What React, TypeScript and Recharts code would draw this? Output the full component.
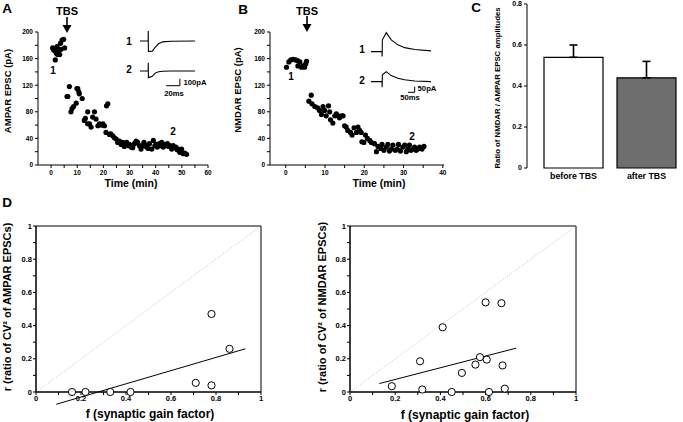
import React from 'react'
import {
  ScatterChart, Scatter, LineChart, Line, BarChart, Bar, Cell, ErrorBar,
  XAxis, YAxis, ReferenceLine, ReferenceArea,
} from 'recharts'

const FONT = 'Arial, "Liberation Sans", Helvetica, sans-serif'

// A: AMPAR EPSC amplitude (time in min, amplitude in pA)
const ampPoints: [number, number][] = [
  [0.6, 176], [1.0, 173], [1.4, 172], [1.6, 158], [2.0, 168], [2.3, 178], [2.5, 166],
  [2.9, 171], [3.3, 166], [3.6, 183], [3.8, 174], [4.2, 188], [4.8, 189], [5.2, 176],
  [6.1, 103], [6.4, 103], [7.0, 118], [7.6, 80], [8.0, 85], [8.6, 88], [9.6, 93],
  [9.9, 115], [10.2, 115], [10.6, 110], [10.8, 107], [11.9, 100], [12.7, 67], [13.1, 70],
  [14.0, 80], [14.0, 62], [14.7, 62], [15.3, 57], [15.9, 72], [16.6, 80], [17.2, 69],
  [17.9, 59], [18.5, 62], [19.3, 60], [19.8, 62], [20.4, 59], [21.0, 49], [21.2, 89],
  [21.7, 92], [22.3, 46], [22.8, 47], [23.6, 44], [24.2, 41], [24.9, 39], [25.5, 34],
  [26.1, 36], [26.8, 31], [27.4, 34], [28.0, 28], [28.9, 34], [29.5, 29], [30.0, 31],
  [30.6, 27], [31.2, 26], [31.9, 32], [32.5, 36], [33.1, 34], [33.8, 29], [34.4, 24],
  [35.0, 29], [35.5, 34], [36.1, 30], [36.5, 27], [37.1, 25], [37.6, 32], [38.5, 24],
  [39.1, 37], [39.7, 29], [40.2, 31], [40.6, 27], [41.4, 32], [41.9, 29], [42.3, 34],
  [42.9, 27], [43.4, 31], [43.9, 29], [44.5, 32], [45.0, 28], [45.4, 29], [46.1, 24],
  [46.7, 29], [47.2, 26], [47.7, 27], [48.2, 23], [48.6, 24], [49.2, 19], [49.9, 24],
  [50.5, 17], [51.1, 18], [51.8, 16],
]

// B: NMDAR EPSC amplitude
const nmdaPoints: [number, number][] = [
  [0.2, 147], [0.8, 155], [1.3, 158], [1.9, 159], [2.5, 158], [3.0, 157], [3.1, 149],
  [3.6, 155], [4.0, 147], [4.4, 149], [4.8, 147], [5.1, 152], [5.3, 156],
  [5.9, 96], [6.5, 105], [6.7, 92], [7.4, 88], [8.1, 86], [8.6, 82], [9.1, 76], [9.5, 88],
  [9.9, 82], [10.3, 74], [10.9, 89], [11.2, 80], [11.4, 68], [12.0, 63], [12.5, 74],
  [12.9, 77], [13.3, 74], [13.7, 71], [14.2, 74], [14.6, 74], [15.0, 59], [15.4, 57],
  [15.8, 52], [16.5, 49], [16.9, 45], [17.4, 56], [18.0, 49], [18.4, 57], [18.8, 52],
  [19.2, 49], [19.4, 35], [19.9, 34], [20.3, 45], [20.8, 40], [21.4, 37], [21.8, 34],
  [22.6, 32], [23.1, 20], [23.5, 28], [24.2, 25], [24.5, 31], [25.0, 22], [25.6, 27],
  [26.0, 31], [26.4, 21], [26.9, 24], [27.3, 30], [27.9, 22], [28.4, 24], [28.7, 31],
  [29.2, 21], [29.8, 27], [30.3, 30], [30.7, 20], [31.1, 24], [31.5, 30], [31.9, 22],
  [32.4, 24], [32.8, 27], [33.2, 22], [33.6, 24], [34.1, 27], [34.7, 24], [35.2, 28],
]

// insets: example EPSC traces (ms, pA)
const ampTraceT = [0, 11.9, 12, 12.2, 18, 22, 27, 33, 45, 80]
const ampTrace1 = [0, 0, 143, -150, -145, -90, -40, -12, -4, 0]
const ampTrace2 = [0, 0, 119, -95, -75, -30, -10, -3, 0, 0]
const ampScaleBar = { ms: [38, 58], pA: [-210, -110] }

const nmdaTraceT = [0, 82, 83, 85, 114, 151, 201, 251, 326, 450]
const nmdaTrace1 = [0, 0, -44, 104, 168, 104, 60, 35, 18, 6]
const nmdaTrace2 = [0, 0, -50, 60, 88, 53, 30, 17, 5, 0]
const nmdaScaleBar = { ms: [276, 326], pA: [-95, -45] }

// C: NMDAR/AMPAR ratio
const ratioLabels = ['before TBS', 'after TBS']
const ratioMeans = [0.54, 0.44]
const ratioErr = [0.06, 0.08]
const ratioFills = ['#ffffff', '#6e6e6e']

// D: CV analysis
const ampGain = [0.16, 0.22, 0.33, 0.42, 0.71, 0.78, 0.78, 0.86]
const ampR = [0, 0, 0, 0, 0.055, 0.04, 0.47, 0.26]
const ampFit = [[0.09, -0.074], [0.93, 0.26]]

const nmdaGain = [0.185, 0.31, 0.32, 0.41, 0.45, 0.495, 0.555, 0.575, 0.6, 0.605, 0.615, 0.67, 0.675, 0.685]
const nmdaR = [0.035, 0.185, 0.015, 0.39, 0, 0.115, 0.165, 0.21, 0.54, 0.195, 0, 0.535, 0.16, 0.02]
const nmdaFit = [[0.13, 0.051], [0.735, 0.264]]

const unitTicks = [0, 0.1, 0.2, 0.3, 0.4, 0.5, 0.6, 0.7, 0.8, 0.9, 1]

const tickStyle = (size: number) => ({ fontSize: size, fontWeight: 700, fill: '#000', fontFamily: FONT })
const axisLine = { stroke: '#000', strokeWidth: 1 }

const Dot = (p: any) => <circle cx={p.cx} cy={p.cy} r={2.6} fill="#000" />
const OpenDot = (p: any) => <circle cx={p.cx} cy={p.cy} r={3.6} fill="#fff" stroke="#000" strokeWidth={1} />

function Txt({ x, y, size, children, rotate }: { x: number; y: number; size: number; children: React.ReactNode; rotate?: boolean }) {
  return (
    <div
      style={{
        position: 'absolute', left: x, top: y, fontSize: size, fontWeight: 700, lineHeight: 1,
        whiteSpace: 'nowrap', color: '#000',
        transform: `translate(-50%, -50%)${rotate ? ' rotate(-90deg)' : ''}`,
      }}
    >
      {children}
    </div>
  )
}

function Arrow({ x, y }: { x: number; y: number }) {
  return (
    <svg style={{ position: 'absolute', left: x - 6, top: y }} width={12} height={17}>
      <line x1={6} y1={0} x2={6} y2={9} stroke="#000" strokeWidth={1.6} />
      <polygon points="1.5,8 10.5,8 6,16" fill="#000" />
    </svg>
  )
}

function TimeCourse(props: {
  left: number; points: [number, number][]; xDomain: [number, number]; xTicks: number[];
  labelEvery: number; width: number; marginLeft: number; marginRight: number;
}) {
  const data = props.points.map(([t, v]) => ({ t, v }))
  return (
    <div style={{ position: 'absolute', left: props.left, top: 0 }}>
      <ScatterChart width={props.width} height={200} margin={{ top: 32, right: props.marginRight, bottom: 5, left: props.marginLeft }}>
        <XAxis type="number" dataKey="t" domain={props.xDomain} ticks={props.xTicks} allowDataOverflow interval={0}
          tickFormatter={(v: number) => (v % props.labelEvery === 0 ? String(v) : '')}
          tick={tickStyle(6.5)} tickSize={3} tickMargin={2} axisLine={axisLine} tickLine={axisLine} height={30} />
        <YAxis type="number" dataKey="v" domain={[0, 200]} ticks={[0, 20, 40, 60, 80, 100, 120, 140, 160, 180, 200]}
          interval={0} tickFormatter={(v: number) => (v % 40 === 0 ? String(v) : '')}
          tick={tickStyle(6.5)} tickSize={3} tickMargin={2} axisLine={axisLine} tickLine={axisLine} width={30} />
        <Scatter data={data} isAnimationActive={false} shape={Dot} />
      </ScatterChart>
    </div>
  )
}

function Trace(props: {
  left: number; top: number; width: number; height: number; t: number[]; v: number[];
  xDomain: [number, number]; yDomain: [number, number]; bar?: { ms: number[]; pA: number[] };
}) {
  const data = props.t.map((t, i) => ({ t, v: props.v[i] }))
  return (
    <div style={{ position: 'absolute', left: props.left, top: props.top }}>
      <LineChart width={props.width} height={props.height} data={data} margin={{ top: 0, right: 0, bottom: 0, left: 0 }}>
        <XAxis type="number" dataKey="t" domain={props.xDomain} hide />
        <YAxis type="number" domain={props.yDomain} hide />
        <Line dataKey="v" type="linear" dot={false} stroke="#000" strokeWidth={1.1} isAnimationActive={false} />
        {props.bar && (
          <ReferenceLine ifOverflow="visible" stroke="#000" strokeWidth={1}
            segment={[{ x: props.bar.ms[0], y: props.bar.pA[0] }, { x: props.bar.ms[1], y: props.bar.pA[0] }]} />
        )}
        {props.bar && (
          <ReferenceLine ifOverflow="visible" stroke="#000" strokeWidth={1}
            segment={[{ x: props.bar.ms[1], y: props.bar.pA[0] }, { x: props.bar.ms[1], y: props.bar.pA[1] }]} />
        )}
      </LineChart>
    </div>
  )
}

function CvPlot(props: {
  left: number; width: number; marginLeft: number; yWidth: number; marginRight: number;
  gain: number[]; r: number[]; fit: number[][];
}) {
  const data = props.gain.map((f, i) => ({ f, r: props.r[i] }))
  const fmt = (v: number) => (Math.round(v * 10) % 2 === 0 ? (v === 0 || v === 1 ? String(v) : v.toFixed(1)) : '')
  return (
    <div style={{ position: 'absolute', left: props.left, top: 200 }}>
      <ScatterChart width={props.width} height={222} margin={{ top: 26, right: props.marginRight, bottom: 0, left: props.marginLeft }}>
        <XAxis type="number" dataKey="f" domain={[0, 1]} ticks={unitTicks} tickFormatter={fmt} interval={0}
          tick={tickStyle(7.5)} tickSize={3} tickMargin={1} axisLine={axisLine} tickLine={axisLine} height={30} />
        <YAxis type="number" dataKey="r" domain={[0, 1]} ticks={unitTicks} tickFormatter={fmt} interval={0}
          tick={tickStyle(7.5)} tickSize={3} tickMargin={1} axisLine={axisLine} tickLine={axisLine} width={props.yWidth} />
        <ReferenceArea x1={0} x2={1} y1={0} y2={1} fill="none" stroke="#000" strokeWidth={1} ifOverflow="visible" />
        <ReferenceLine segment={[{ x: 0, y: 0 }, { x: 1, y: 1 }]} stroke="#b5b5b5" strokeWidth={0.8}
          strokeDasharray="1 1.5" ifOverflow="visible" />
        <ReferenceLine segment={[{ x: props.fit[0][0], y: props.fit[0][1] }, { x: props.fit[1][0], y: props.fit[1][1] }]}
          stroke="#000" strokeWidth={1} ifOverflow="visible" />
        <Scatter data={data} isAnimationActive={false} shape={OpenDot} />
      </ScatterChart>
    </div>
  )
}

export default function App() {
  const ratioData = ratioLabels.map((name, i) => ({ name, mean: ratioMeans[i], err: [0, ratioErr[i]] }))
  return (
    <div style={{ position: 'absolute', left: 0, top: 0, width: 683, height: 422, background: '#fff', fontFamily: FONT, overflow: 'hidden' }}>
      {/* A */}
      <TimeCourse left={0} points={ampPoints} xDomain={[-5, 60]} xTicks={[0, 5, 10, 15, 20, 25, 30, 35, 40, 45, 50, 55, 60]}
        labelEvery={10} width={230} marginLeft={8} marginRight={22} />
      <Trace left={140} top={27.3} width={55} height={28} t={ampTraceT} v={ampTrace1} xDomain={[0, 80]} yDomain={[-200, 200]} />
      <Trace left={140} top={57.3} width={55} height={29.4} t={ampTraceT} v={ampTrace2} xDomain={[0, 80]} yDomain={[-220, 200]}
        bar={ampScaleBar} />
      <Txt x={7} y={9} size={13.5}>A</Txt>
      <Txt x={67} y={11} size={11}>TBS</Txt>
      <Arrow x={66.5} y={17} />
      <Txt x={53} y={71} size={10}>1</Txt>
      <Txt x={173} y={132} size={10}>2</Txt>
      <Txt x={129} y={42} size={10}>1</Txt>
      <Txt x={129} y={70} size={10}>2</Txt>
      <Txt x={195} y={83} size={7.7}>100pA</Txt>
      <Txt x={174} y={94} size={7.7}>20ms</Txt>
      <Txt x={8} y={91} size={9.5} rotate>AMPAR EPSC (pA)</Txt>
      <Txt x={131} y={183} size={10.5}>Time (min)</Txt>

      {/* B */}
      <TimeCourse left={225} points={nmdaPoints} xDomain={[-4, 40.3]} xTicks={[0, 5, 10, 15, 20, 25, 30, 35, 40]}
        labelEvery={10} width={230} marginLeft={15} marginRight={11} />
      <Trace left={371} top={29.4} width={60.3} height={29.4} t={nmdaTraceT} v={nmdaTrace1} xDomain={[0, 450]} yDomain={[-60, 200]} />
      <Trace left={371} top={58.7} width={60.3} height={33.9} t={nmdaTraceT} v={nmdaTrace2} xDomain={[0, 450]} yDomain={[-100, 200]}
        bar={nmdaScaleBar} />
      <Txt x={243} y={10} size={13.5}>B</Txt>
      <Txt x={307} y={11} size={11}>TBS</Txt>
      <Arrow x={307} y={16} />
      <Txt x={291} y={77} size={10}>1</Txt>
      <Txt x={412} y={137} size={10}>2</Txt>
      <Txt x={362} y={50} size={10}>1</Txt>
      <Txt x={362} y={81} size={10}>2</Txt>
      <Txt x={427} y={89} size={7.7}>50pA</Txt>
      <Txt x={410} y={98} size={7.7}>50ms</Txt>
      <Txt x={238} y={90} size={9.5} rotate>NMDAR EPSC (pA)</Txt>
      <Txt x={379} y={183} size={10.5}>Time (min)</Txt>

      {/* C */}
      <div style={{ position: 'absolute', left: 455, top: 0 }}>
        <BarChart width={228} height={200} data={ratioData} margin={{ top: 4, right: 0, bottom: 12, left: 42 }}>
          <XAxis dataKey="name" padding={{ left: 10, right: 0 }} axisLine={false} tickLine={false} tickSize={0} tickMargin={5}
            tick={tickStyle(8.8)} height={20} interval={0} />
          <YAxis type="number" domain={[0, 0.8]} ticks={[0, 0.2, 0.4, 0.6, 0.8]} interval={0}
            tickFormatter={(v: number) => (v === 0 ? '0' : v.toFixed(1))}
            tick={tickStyle(7)} tickSize={3} tickMargin={2} axisLine={axisLine} tickLine={axisLine} width={30} />
          <Bar dataKey="mean" barSize={59} stroke="#000" strokeWidth={1.2} isAnimationActive={false}>
            {ratioData.map((d, i) => <Cell key={d.name} fill={ratioFills[i]} />)}
            <ErrorBar dataKey="err" direction="y" width={4} stroke="#000" strokeWidth={1.6} />
          </Bar>
        </BarChart>
      </div>
      <Txt x={476} y={8} size={13.5}>C</Txt>
      <Txt x={498} y={88} size={7.8} rotate>Ratio of NMDAR / AMPAR EPSC amplitudes</Txt>

      {/* D */}
      <CvPlot left={0} width={340} marginLeft={14} yWidth={22} marginRight={79} gain={ampGain} r={ampR} fit={ampFit} />
      <CvPlot left={300} width={383} marginLeft={20} yWidth={30} marginRight={107} gain={nmdaGain} r={nmdaR} fit={nmdaFit} />
      <Txt x={7} y={203} size={13.5}>D</Txt>
      <Txt x={7} y={307} size={11} rotate>r (ratio of CV² of AMPAR EPSCs)</Txt>
      <Txt x={322} y={307} size={11} rotate>r (ratio of CV² of NMDAR EPSCs)</Txt>
      <Txt x={150} y={414} size={12}>f (synaptic gain factor)</Txt>
      <Txt x={465} y={415} size={12}>f (synaptic gain factor)</Txt>
    </div>
  )
}
